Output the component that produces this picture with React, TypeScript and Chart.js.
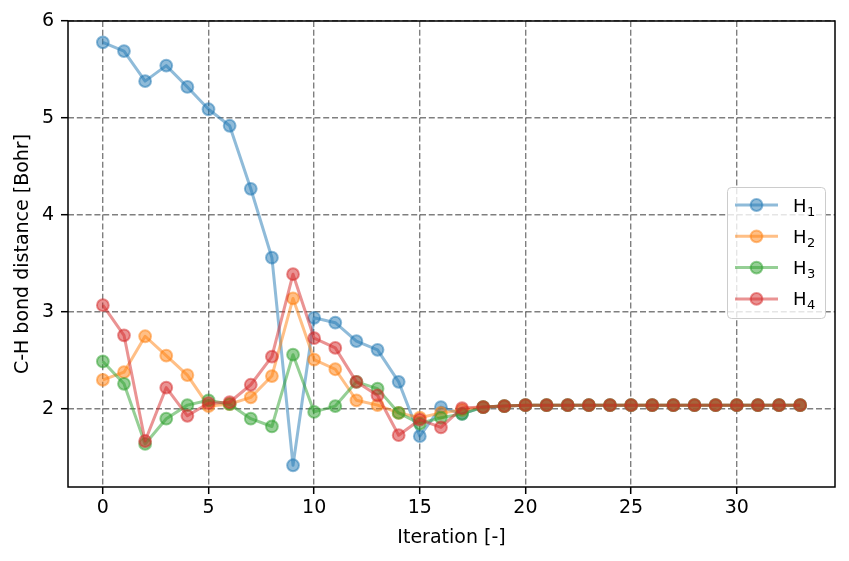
import React, { useEffect, useRef } from "react";
import { Chart, registerables } from "chart.js";

Chart.register(...registerables);

const iterations = [0, 1, 2, 3, 4, 5, 6, 7, 8, 9, 10, 11, 12, 13, 14, 15, 16, 17, 18, 19, 20, 21, 22, 23, 24, 25, 26, 27, 28, 29, 30, 31, 32, 33];

const h1 = [5.78, 5.69, 5.38, 5.54, 5.32, 5.09, 4.92, 4.27, 3.56, 1.42, 2.94, 2.89, 2.70, 2.61, 2.28, 1.72, 2.02, 1.95, 2.02, 2.03, 2.04, 2.04, 2.04, 2.04, 2.04, 2.04, 2.04, 2.04, 2.04, 2.04, 2.04, 2.04, 2.04, 2.04];
const h2 = [2.30, 2.38, 2.75, 2.55, 2.35, 2.03, 2.05, 2.12, 2.34, 3.14, 2.51, 2.41, 2.09, 2.04, 1.96, 1.91, 1.96, 1.99, 2.02, 2.03, 2.04, 2.04, 2.04, 2.04, 2.04, 2.04, 2.04, 2.04, 2.04, 2.04, 2.04, 2.04, 2.04, 2.04];
const h3 = [2.49, 2.26, 1.64, 1.90, 2.04, 2.09, 2.05, 1.90, 1.82, 2.56, 1.97, 2.03, 2.28, 2.21, 1.96, 1.85, 1.91, 1.95, 2.02, 2.03, 2.04, 2.04, 2.04, 2.04, 2.04, 2.04, 2.04, 2.04, 2.04, 2.04, 2.04, 2.04, 2.04, 2.04];
const h4 = [3.07, 2.76, 1.67, 2.22, 1.93, 2.06, 2.07, 2.25, 2.54, 3.39, 2.73, 2.63, 2.28, 2.14, 1.73, 1.89, 1.81, 2.01, 2.02, 2.03, 2.04, 2.04, 2.04, 2.04, 2.04, 2.04, 2.04, 2.04, 2.04, 2.04, 2.04, 2.04, 2.04, 2.04];

const seriesSubscripts = ["1", "2", "3", "4"];
const seriesValues = [h1, h2, h3, h4];
const seriesRgb = ["31,119,180", "255,127,14", "44,160,44", "214,39,40"];

const xTicks = [0, 5, 10, 15, 20, 25, 30];
const yTicks = [2, 3, 4, 5, 6];
const xRange = [-1.65, 34.65];
const yRange = [1.196, 6.0];

const FONT = "'DejaVu Sans', sans-serif";

const framePlugin = {
  id: "frame",
  afterDatasetsDraw(chart: any) {
    const { ctx, chartArea } = chart;
    ctx.save();
    ctx.strokeStyle = "#000";
    ctx.lineWidth = 1.5;
    ctx.strokeRect(
      Math.round(chartArea.left),
      Math.round(chartArea.top),
      Math.round(chartArea.right - chartArea.left),
      Math.round(chartArea.bottom - chartArea.top)
    );
    ctx.restore();
  },
};

const legendPlugin = {
  id: "mplLegend",
  afterDraw(chart: any) {
    const { ctx } = chart;
    const x0 = 727.5, y0 = 187.5, w = 98, h = 131, r = 4;
    ctx.save();
    ctx.beginPath();
    ctx.moveTo(x0 + r, y0);
    ctx.lineTo(x0 + w - r, y0);
    ctx.arcTo(x0 + w, y0, x0 + w, y0 + r, r);
    ctx.lineTo(x0 + w, y0 + h - r);
    ctx.arcTo(x0 + w, y0 + h, x0 + w - r, y0 + h, r);
    ctx.lineTo(x0 + r, y0 + h);
    ctx.arcTo(x0, y0 + h, x0, y0 + h - r, r);
    ctx.lineTo(x0, y0 + r);
    ctx.arcTo(x0, y0, x0 + r, y0, r);
    ctx.closePath();
    ctx.fillStyle = "rgba(255,255,255,0.8)";
    ctx.fill();
    ctx.strokeStyle = "#cccccc";
    ctx.lineWidth = 1;
    ctx.stroke();

    seriesSubscripts.forEach((sub, i) => {
      const cy = 205 + i * 31.3;
      const rgb = seriesRgb[i];
      ctx.beginPath();
      ctx.moveTo(735, cy);
      ctx.lineTo(778, cy);
      ctx.strokeStyle = `rgba(${rgb},0.5)`;
      ctx.lineWidth = 3;
      ctx.stroke();
      ctx.beginPath();
      ctx.arc(756.5, cy, 5.9, 0, Math.PI * 2);
      ctx.fillStyle = `rgba(${rgb},0.5)`;
      ctx.fill();
      ctx.lineWidth = 2;
      ctx.strokeStyle = `rgba(${rgb},0.5)`;
      ctx.stroke();

      ctx.fillStyle = "#000";
      ctx.textBaseline = "alphabetic";
      ctx.textAlign = "left";
      ctx.font = `18px ${FONT}`;
      ctx.fillText("H", 793, cy + 6.5);
      const hw = ctx.measureText("H").width;
      ctx.font = `13px ${FONT}`;
      ctx.fillText(sub, 793 + hw + 0.5, cy + 10.5);
    });
    ctx.restore();
  },
};

export default function App() {
  const ref = useRef<HTMLCanvasElement | null>(null);

  useEffect(() => {
    document.body.style.margin = "0";
    const canvas = ref.current;
    if (!canvas) return;

    const datasets = seriesValues.map((vals, i) => ({
      label: "H" + seriesSubscripts[i],
      data: vals.map((v, j) => ({ x: iterations[j], y: v })),
      borderColor: `rgba(${seriesRgb[i]},0.5)`,
      backgroundColor: `rgba(${seriesRgb[i]},0.5)`,
      pointBackgroundColor: `rgba(${seriesRgb[i]},0.5)`,
      pointBorderColor: `rgba(${seriesRgb[i]},0.5)`,
      pointBorderWidth: 2,
      pointRadius: 5.9,
      pointHoverRadius: 5.9,
      borderWidth: 3,
      borderJoinStyle: "round" as const,
      tension: 0,
      fill: false,
      order: 4 - i,
    }));

    const gridOpts = {
      color: "rgba(0,0,0,0.5)",
      lineWidth: 1.4,
      tickLength: 7,
      tickColor: "#000",
      tickWidth: 1.5,
      tickBorderDash: [],
    };
    const borderOpts = { display: false, dash: [6, 2.8] };

    const chart = new Chart(canvas, {
      type: "line",
      data: { datasets },
      options: {
        animation: false,
        responsive: false,
        devicePixelRatio: 1,
        events: [],
        layout: { padding: { left: 0, right: 14, top: 21, bottom: 0 } },
        plugins: { legend: { display: false }, tooltip: { enabled: false } },
        scales: {
          x: {
            type: "linear",
            min: xRange[0],
            max: xRange[1],
            afterBuildTicks: (scale: any) => {
              scale.ticks = xTicks.map((v) => ({ value: v }));
            },
            afterFit: (scale: any) => {
              scale.height = 74;
            },
            ticks: {
              color: "#000",
              font: { family: FONT, size: 19 },
              padding: 3,
              maxRotation: 0,
              autoSkip: false,
            },
            grid: gridOpts,
            border: borderOpts,
            title: {
              display: true,
              text: "Iteration [-]",
              color: "#000",
              font: { family: FONT, size: 19 },
              padding: { top: 0, bottom: 12 },
            },
          },
          y: {
            type: "linear",
            min: yRange[0],
            max: yRange[1],
            afterBuildTicks: (scale: any) => {
              scale.ticks = yTicks.map((v) => ({ value: v }));
            },
            afterFit: (scale: any) => {
              scale.width = 68;
            },
            ticks: {
              color: "#000",
              font: { family: FONT, size: 19 },
              padding: 7,
              autoSkip: false,
            },
            grid: gridOpts,
            border: borderOpts,
            title: {
              display: true,
              text: "C-H bond distance [Bohr]",
              color: "#000",
              font: { family: FONT, size: 19 },
              padding: { top: 12, bottom: 0 },
            },
          },
        },
      },
      plugins: [framePlugin, legendPlugin],
    });

    return () => chart.destroy();
  }, []);

  return (
    <div style={{ width: 849, height: 561 }}>
      <canvas ref={ref} width={849} height={561} style={{ display: "block" }} />
    </div>
  );
}
